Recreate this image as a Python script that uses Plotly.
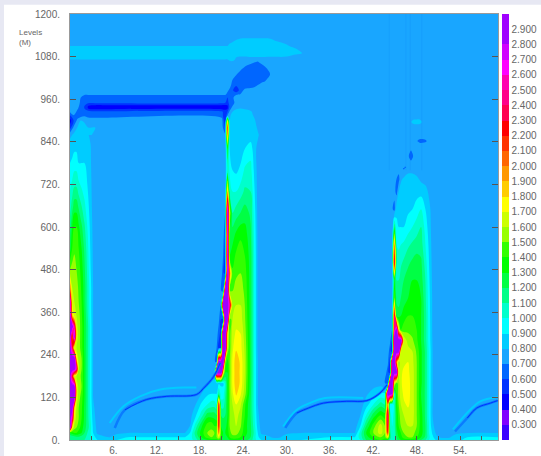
import plotly.graph_objects as go

# ---- tick labels / levels ----
X_MAJOR = [6, 12, 18, 24, 30, 36, 42, 48, 54]
X_MINOR = [3, 9, 15, 21, 27, 33, 39, 45, 51, 57]
Y_TICKS = [0, 120, 240, 360, 480, 600, 720, 840, 960, 1080, 1200]
CB_TICKS = [0.3 + 0.1 * i for i in range(27)]
BG_COLOR = "#19a6ff"
BAND_COLORS = ["#3a00ff", "#8000ff", "#0000ff", "#0033ff", "#0066ff", BG_COLOR, "#00ccff",
               "#00ffff", "#00ffcc", "#00ff88", "#00ff44", "#00ff00", "#33ff00", "#66ff00",
               "#99ff00", "#ccff00", "#ffff00", "#ffcc00", "#ff9900", "#ff6600", "#ff3300",
               "#ff0000", "#ff0050", "#ff0088", "#ff00b0", "#ff00ff", "#d000ff", "#a000ff"]

# ---- field values (hundredths) ----
BASE_X = [0, 59.25]
BASE_Y = [0, 1200]
BASE_Z = [[75, 75], [75, 75]]

P1_X = [0, .3, .6, .9, 1.2, 1.6, 2, 2.4, 2.8, 3.2, 3.8, 4.5, 5.5, 6.5, 8, 10, 13, 15.92]
P1_Y = [0, 8, 20, 35, 60, 90, 120, 150, 180, 200, 230, 260, 290, 320, 350, 390, 430, 480, 540, 600, 660, 720, 780, 830, 859.155]
P1_Z = [
    [110, 110, 112, 115, 115, 112, 110, 105, 100, 95, 90, 88, 88, 90, 92, 92, 92, 92],
    [110, 112, 115, 118, 118, 115, 112, 108, 102, 95, 85, 82, 80, 85, 90, 90, 90, 90],
    [130, 135, 140, 140, 135, 130, 120, 110, 102, 90, 78, 76, 75, 78, 80, 80, 80, 80],
    [295, 180, 155, 150, 145, 135, 125, 115, 105, 88, 76] + [75] * 7,
    [295, 250, 170, 155, 150, 140, 128, 115, 102, 85] + [75] * 8,
    [295, 295, 185, 160, 150, 142, 128, 115, 100, 82] + [75] * 8,
    [295, 295, 295, 170, 155, 145, 130, 115, 98, 80] + [75] * 8,
    [295, 295, 295, 175, 155, 150, 130, 115, 98, 80] + [75] * 8,
    [295, 230, 170, 160, 155, 148, 130, 115, 98, 80] + [75] * 8,
    [295, 295, 295, 250, 160, 150, 130, 115, 98, 80] + [75] * 8,
    [295, 295, 295, 180, 155, 150, 130, 115, 98, 80] + [75] * 8,
    [295, 240, 165, 160, 155, 145, 128, 115, 98, 80] + [75] * 8,
    [295, 200, 290, 170, 155, 145, 128, 115, 98, 80] + [75] * 8,
    [295, 295, 250, 165, 155, 145, 128, 115, 98, 80] + [75] * 8,
    [295, 190, 165, 160, 155, 142, 128, 112, 96, 80] + [75] * 8,
    [280, 165, 160, 158, 150, 140, 125, 110, 95, 80] + [75] * 8,
    [200, 160, 160, 155, 148, 138, 125, 110, 95, 80] + [75] * 8,
    [150, 155, 155, 150, 145, 135, 122, 108, 92, 79] + [75] * 8,
    [125, 140, 148, 148, 140, 130, 118, 105, 90, 78] + [75] * 8,
    [115, 130, 140, 140, 132, 122, 112, 100, 88, 77] + [75] * 8,
    [105, 115, 125, 125, 118, 110, 102, 95, 85, 76] + [75] * 8,
    [98, 102, 108, 108, 102, 98, 95, 90, 83, 76] + [75] * 8,
    [90, 92, 95, 95, 90, 90, 90, 87, 82, 75] + [75] * 8,
    [84, 85, 87, 87, 84, 84, 84, 84, 81, 75] + [75] * 8,
    [78, 80, 82, 84, 84, 84, 84, 82, 78, 75] + [75] * 8,
]

P2_X = [15.92, 16.6, 17.4, 18.2, 19, 19.6, 20, 20.3, 20.6, 20.9, 21.2, 21.5, 21.8, 22.1, 22.5, 23, 23.6, 24.2, 25, 25.5, 26, 26.5, 26.9947]
P2_Y = [0, 8, 20, 39.437, 70, 100, 130, 160, 190, 220, 260, 300, 340, 380, 420, 470, 520, 580, 640, 700, 760, 820, 859.155]
P2_Z = [
    [92, 95, 105, 120, 130, 135, 135, 135, 140, 130, 120, 120, 125, 130, 135, 135, 130, 125, 115, 105, 95, 90, 88],
    [90, 95, 110, 130, 145, 150, 150, 150, 165, 140, 125, 125, 130, 140, 145, 145, 140, 130, 120, 105, 92, 85, 85],
    [80, 90, 115, 135, 150, 152, 150, 150, 200, 140, 130, 130, 135, 145, 155, 155, 145, 135, 122, 108, 90, 78, 76],
    [75, 80, 105, 128, 145, 148, 140, 140, 230, 130, 125, 125, 135, 150, 160, 160, 152, 135, 122, 105, 85, 76, 75],
    [75, 76, 88, 105, 125, 125, 125, 120, 240, 120, 118, 120, 130, 150, 155, 165, 155, 140, 120, 102, 82, 75, 75],
    [75, 75, 80, 92, 100, 105, 105, 100, 230, 105, 105, 115, 130, 150, 160, 170, 162, 142, 120, 100, 80, 75, 75],
    [75, 75, 75, 80, 88, 90, 90, 90, 115, 95, 95, 110, 130, 150, 168, 182, 172, 155, 122, 100, 80, 75, 75],
    [75, 75, 75, 75, 80, 85, 85, 85, 88, 88, 88, 105, 130, 152, 172, 187, 178, 158, 124, 100, 80, 75, 75],
    [75, 75, 75, 75, 75, 75, 70, 295, 295, 295, 180, 130, 130, 150, 172, 187, 178, 160, 125, 100, 80, 75, 75],
    [75, 75, 75, 75, 75, 75, 75, 60, 295, 295, 295, 150, 135, 150, 172, 187, 178, 160, 125, 100, 80, 75, 75],
    [75, 75, 75, 75, 75, 75, 75, 70, 55, 60, 295, 295, 160, 145, 168, 178, 174, 158, 125, 100, 78, 75, 75],
    [75, 75, 75, 75, 75, 75, 75, 75, 65, 55, 295, 295, 180, 145, 165, 172, 170, 155, 125, 100, 78, 75, 75],
    [75] * 8 + [72, 60, 50, 295, 295, 140, 160, 165, 165, 152, 125, 100, 78, 75, 75],
    [75] * 9 + [70, 295, 295, 295, 250, 155, 160, 160, 150, 125, 100, 78, 75, 75],
    [75] * 9 + [72, 60, 295, 295, 150, 150, 155, 155, 148, 125, 100, 78, 75, 75],
    [75] * 10 + [65, 50, 295, 200, 142, 148, 150, 145, 125, 100, 78, 75, 75],
    [75] * 10 + [70, 55, 295, 130, 135, 142, 145, 140, 125, 100, 78, 75, 75],
    [75] * 11 + [60, 280, 125, 125, 132, 138, 135, 122, 98, 78, 75, 75],
    [75] * 11 + [70, 295, 160, 110, 115, 120, 125, 118, 96, 77, 75, 75],
    [75] * 11 + [75, 190, 110, 100, 100, 105, 112, 110, 92, 76, 75, 75],
    [75] * 12 + [110, 98, 90, 88, 92, 102, 104, 88, 76, 75, 75],
    [75] * 12 + [130, 90, 86, 85, 85, 90, 95, 85, 76, 75, 75],
    [75] * 11 + [72, 200, 86, 85, 85, 85, 85, 85, 85, 82, 75, 75],
]

TOP_X = [0, .5, 1, 1.5, 2, 2.5, 3.5, 4.5, 21, 21.5, 21.8, 22.1, 22.5, 23, 23.6, 24.2, 25, 25.5, 26, 26.5, 27, 27.7, 28.5, 30, 31, 32, 33, 33.9165]
TOP_Y = [859.155, 880, 900, 915, 925, 934, 941, 950, 965, 975, 985, 1000, 1015, 1030, 1045, 1055, 1065, 1072, 1080, 1090, 1100, 1110, 1120, 1130, 1140.845]
TOP_Z = [
    [78, 82, 84, 84, 84, 84, 76, 75, 75, 72, 200, 86, 85, 85, 85, 85, 85, 85, 82] + [75] * 9,
    [55, 72, 80, 84, 84, 80, 80, 75, 75, 60, 220, 88, 87, 87, 87, 87, 85, 85, 78] + [75] * 9,
    [45, 60, 72, 80, 78, 76, 75, 75, 75, 50, 170, 80, 85, 85, 85, 85, 85, 82] + [75] * 10,
    [60, 70, 65, 65, 68, 65, 65, 65, 65, 50, 70, 78, 84, 86, 86, 86, 84, 78] + [75] * 10,
    [72, 76, 68, 64, 66, 64, 62, 62, 62, 55, 60, 72, 80, 85, 85, 85, 82, 76] + [75] * 10,
    [75, 75, 72, 64, 60, 50, 46, 46, 46, 46, 48, 65, 75, 78, 80, 78] + [75] * 12,
    [75, 75, 74, 66, 60, 50, 46, 46, 46, 46, 48, 62, 70] + [75] * 15,
    [75, 75, 75, 68, 64, 62, 62, 62, 62, 60, 58, 62, 68, 72] + [75] * 14,
    [75, 75, 75, 70, 65, 65, 65, 65, 65, 65, 60, 64, 68, 75] + [75] * 14,
    [75, 75, 75, 75, 72, 72, 72, 72, 72, 72, 68, 64, 64, 68, 70, 72] + [75] * 12,
    [75] * 10 + [72, 68, 62, 50, 66, 72, 74] + [75] * 11,
    [75] * 10 + [75, 74, 66, 62, 64, 65, 65, 66, 70, 74] + [75] * 8,
    [75] * 12 + [70, 65, 64, 64, 63, 62, 62, 65, 68] + [75] * 7,
    [75] * 12 + [75, 71, 65, 63, 62, 61, 62, 63, 65, 70] + [75] * 6,
    [75] * 13 + [75, 72, 66, 62, 60, 61, 63, 66] + [75] * 7,
    [75] * 14 + [75, 72, 66, 65, 65, 67, 72] + [75] * 7,
    [75] * 11 + [76, 78, 75, 75, 75, 75, 71, 69, 74] + [75] * 8,
    [80] * 11 + [84, 84, 78, 76, 76] + [75] * 12,
    [85] * 11 + [86, 86, 81, 80, 80, 81, 81, 81, 81, 81, 80.5, 80.5, 80, 76, 75, 75, 75],
    [86] * 23 + [85, 84, 81, 75, 75],
    [86] * 23 + [85, 83, 77, 75, 75],
    [80] * 11 + [84, 86, 86, 86, 86, 86, 86, 86, 86, 86, 86, 85, 81.5, 77, 75, 75, 75],
    [75] * 11 + [78, 80.5, 84, 84, 84, 84, 84, 84, 84, 84, 84, 82, 78, 75, 75, 75, 75],
    [75] * 13 + [78, 80.5, 81, 81, 81, 81, 81, 81, 80.5, 77, 75, 75, 75, 75, 75],
    [75] * 28,
]

P3_X = [39.4538, 40.2, 41, 42, 43, 43.6, 44, 44.3, 44.6, 44.9, 45.2, 45.5, 45.8, 46.2, 46.8, 47.4, 48, 48.6, 49.2, 49.7, 50.2, 50.8, 51.4978]
P3_Y = [0, 8, 20, 39.437, 70, 100, 130, 160, 190, 220, 250, 280, 310, 350, 400, 450, 500, 550, 600, 650, 700, 735, 766.197]
P3_Z = [
    [92, 100, 120, 130, 140, 135, 125, 110, 105, 105, 115, 125, 130, 135, 135, 135, 130, 120, 110, 100, 95, 88, 84],
    [90, 105, 125, 140, 150, 145, 170, 115, 105, 105, 120, 130, 135, 145, 150, 150, 140, 130, 118, 102, 92, 82, 78],
    [80, 105, 130, 150, 165, 150, 220, 115, 100, 105, 125, 135, 140, 150, 155, 155, 145, 135, 120, 100, 88, 76, 75],
    [75, 90, 120, 145, 165, 150, 240, 110, 100, 105, 130, 140, 150, 155, 160, 160, 150, 135, 120, 100, 82, 75, 75],
    [75, 80, 100, 125, 140, 135, 250, 105, 95, 105, 130, 145, 155, 160, 165, 165, 150, 135, 118, 98, 80, 75, 75],
    [75, 75, 85, 100, 115, 110, 200, 95, 90, 105, 135, 150, 160, 168, 172, 165, 150, 132, 118, 98, 80, 75, 75],
    [75, 75, 78, 85, 92, 92, 295, 295, 280, 100, 140, 155, 165, 172, 174, 165, 150, 130, 118, 98, 80, 75, 75],
    [75, 75, 75, 75, 75, 70, 60, 295, 295, 170, 145, 155, 168, 174, 174, 165, 150, 132, 118, 98, 80, 75, 75],
    [75, 75, 75, 75, 75, 75, 65, 50, 295, 295, 295, 160, 168, 172, 172, 165, 150, 132, 118, 98, 80, 75, 75],
    [75, 75, 75, 75, 75, 75, 72, 55, 295, 295, 200, 155, 165, 168, 170, 163, 150, 132, 118, 98, 80, 75, 75],
    [75, 75, 75, 75, 75, 75, 75, 65, 50, 295, 295, 295, 165, 165, 165, 160, 148, 132, 118, 98, 80, 75, 75],
    [75, 75, 75, 75, 75, 75, 75, 72, 60, 295, 295, 295, 295, 170, 155, 152, 142, 130, 115, 96, 79, 75, 75],
    [75, 75, 75, 75, 75, 75, 75, 75, 70, 250, 295, 180, 140, 145, 148, 145, 140, 130, 115, 96, 78, 75, 75],
    [75] * 8 + [75, 240, 130, 125, 130, 135, 140, 140, 138, 130, 115, 95, 78, 75, 75],
    [75] * 8 + [75, 150, 115, 115, 120, 125, 130, 135, 135, 130, 112, 94, 78, 75, 75],
    [75] * 8 + [75, 130, 110, 110, 115, 120, 125, 130, 130, 125, 110, 92, 77, 75, 75],
    [75] * 8 + [72, 240, 105, 105, 108, 112, 118, 122, 125, 122, 105, 90, 76, 75, 75],
    [75] * 8 + [72, 200, 100, 98, 100, 102, 108, 112, 115, 115, 100, 88, 75, 75, 75],
    [75] * 8 + [70, 120, 92, 90, 90, 90, 95, 100, 105, 110, 96, 85, 75, 75, 75],
    [75] * 8 + [72, 65, 88, 86, 86, 86, 88, 90, 95, 100, 90, 83, 75, 75, 75],
    [75] * 8 + [75, 75, 65, 80, 85, 86, 88, 88, 86, 86, 84, 78, 75, 75, 75],
    [75] * 8 + [75, 75, 70, 66, 78, 82, 85, 85, 82, 78, 76, 75, 75, 75, 75],
    [75] * 13 + [68] + [75] * 9,
]

BLOB_X = [45.545, 46, 46.4, 46.8, 47.2, 47.6, 48, 48.4, 48.8, 49.2, 49.6, 49.9749]
BLOB_Y = [766.197, 780, 790, 800, 812, 825, 834, 842, 851, 885, 896, 908, 921.127]
BLOB_Z = [
    [75, 74, 68, 74, 75, 75, 75, 75, 75, 75, 75, 75],
    [75] * 12,
    [75, 75, 75, 75, 68, 75, 75, 75, 75, 75, 75, 75],
    [75, 75, 75, 72, 64, 72, 75, 75, 75, 75, 75, 75],
    [75, 75, 75, 75, 68, 75, 75, 75, 75, 75, 75, 75],
    [75] * 12,
    [75] * 12,
    [75, 75, 75, 75, 75, 75, 72, 64, 62, 66, 75, 75],
    [75] * 12,
    [75] * 12,
    [75, 75, 75, 75, 79, 86, 87, 86, 78, 75, 75, 75],
    [75] * 12,
    [75] * 12,
]

S2_X = [26.9947, 28, 29, 30, 32, 36, 39.4538]
S3_X = [51.4978, 52.5, 53.5, 55, 59.25]
SURF_Y = [0, 8, 20, 39.437]
S2_Z = [[88, 84, 84, 88, 90, 92, 92], [85, 79, 79, 85, 88, 90, 90], [76, 75, 75, 78, 80, 80, 80], [75] * 7]
S3_Z = [[84, 84, 88, 92, 92], [78, 79, 85, 90, 90], [75, 75, 78, 80, 80], [75] * 5]

# ---- thin filaments ----
F1_EDGE_X, F1_EDGE_Y = [5.5, 7.4, 9.7, 12.5, 16.2, 17.5], [48, 95, 123, 142, 148, 148]
F1_BODY_X = [6.2, 7.6, 10.6, 13.4, 17.5, 18.5, 19.9, 20.8]
F1_BODY_Y = [34, 85, 114, 123, 128, 146, 179, 217]
F2_EDGE_X, F2_EDGE_Y = [29.5, 31.4, 33.2, 35.3, 40.6], [38, 85, 104, 118, 118]
F2_BODY_X = [29.8, 31.4, 33, 35.1, 38.3, 41.1, 42.9, 43.9]
F2_BODY_Y = [34, 76, 90, 104, 109, 111, 132, 156]
F3_EDGE_X, F3_EDGE_Y = [53, 55.4, 56.8, 59.2], [30, 85, 109, 121]
F3_BODY_X = [53.3, 55, 56.3, 58.2, 59.2]
F3_BODY_Y = [24, 62, 90, 104, 111]
FAINT_X = [44.2, 46.5, 47.1, 48.7]

GREY = "#666666"
FONT = "Liberation Sans"
W, H = 541, 456
L, R, T, B = 70, 498, 14, 440


def stepped(colors):
    n = len(colors)
    out = []
    for i, c in enumerate(colors):
        out += [[i / n, c], [(i + 1) / n, c]]
    return out


# colorbar scale: levels 0.2-2.9
bar_scale = stepped(BAND_COLORS)
# patch scale: one extra unused level below 0.2 so the backdrop of every patch is the background colour
patch_scale = stepped([BG_COLOR] + BAND_COLORS)

fig = go.Figure()


def patch(xs, ys, zs, bar=False):
    fig.add_trace(go.Contour(
        x=xs, y=ys, z=[[v / 100 for v in row] for row in zs],
        zmin=0.2 if bar else 0.1, zmax=3.0, autocontour=False, colorscale=bar_scale if bar else patch_scale,
        contours=dict(start=0.2 if bar else 0.1, end=2.9, size=0.1, coloring="fill", showlines=False),
        line=dict(width=0), showscale=bar, hoverinfo="skip",
        colorbar=dict(x=502.3 / W, xanchor="left", y=1 - B / H, yanchor="bottom", len=(B - T) / H,
                      lenmode="fraction", thickness=7, xpad=0, ypad=0, outlinewidth=0,
                      tickmode="array", tickvals=CB_TICKS, ticktext=[f"{v:.3f}" for v in CB_TICKS],
                      ticks="", ticklen=0, tickfont=dict(family=FONT, size=10, color=GREY)),
    ))


patch(BASE_X, BASE_Y, BASE_Z, bar=True)
patch(P1_X, P1_Y, P1_Z)
patch(P2_X, P2_Y, P2_Z)
patch(TOP_X, TOP_Y, TOP_Z)
patch(P3_X, P3_Y, P3_Z)
patch(BLOB_X, BLOB_Y, BLOB_Z)
patch(S2_X, SURF_Y, S2_Z)
patch(S3_X, SURF_Y, S3_Z)


def strand(xs, ys, color, width):
    fig.add_trace(go.Scatter(x=xs, y=ys, mode="lines", line=dict(color=color, width=width, shape="spline"),
                             showlegend=False, hoverinfo="skip"))


for ex, ey, bx, by in [(F1_EDGE_X, F1_EDGE_Y, F1_BODY_X, F1_BODY_Y),
                       (F2_EDGE_X, F2_EDGE_Y, F2_BODY_X, F2_BODY_Y),
                       (F3_EDGE_X, F3_EDGE_Y, F3_BODY_X, F3_BODY_Y)]:
    strand(ex, ey, "#00ccff", 2)
    strand(bx, by, "#0a7cff", 2.5)
    strand(bx[1:], by[1:], "#0033ff", 1)

for fx in FAINT_X:
    fig.add_trace(go.Scatter(x=[fx, fx], y=[760, 1200], mode="lines",
                             line=dict(color="rgba(0,110,230,0.12)", width=1),
                             showlegend=False, hoverinfo="skip"))

LAV = "#e7e8f3"
fig.update_layout(
    width=W, height=H, autosize=False,
    margin=dict(l=0, r=0, t=0, b=0),
    paper_bgcolor="white", plot_bgcolor=BG_COLOR, showlegend=False,
    font=dict(family=FONT, size=10, color=GREY),
    shapes=[dict(type="rect", xref="paper", yref="paper", layer="above", line=dict(width=0), fillcolor=LAV,
                 x0=0, x1=1, y0=1 - 4.7 / H, y1=1),
            dict(type="rect", xref="paper", yref="paper", layer="above", line=dict(width=0), fillcolor=LAV,
                 x0=0, x1=4 / W, y0=0, y1=1)],
    annotations=[dict(text="Levels<br>(M)", xref="paper", yref="paper", x=17 / W, y=1 - 26 / H,
                      xanchor="left", yanchor="top", align="left", showarrow=False,
                      font=dict(family=FONT, size=8, color=GREY))],
    xaxis=dict(domain=[L / W, R / W], range=[0, 59.25], tickmode="array", tickvals=X_MAJOR,
               ticktext=[f"{v}." for v in X_MAJOR], automargin=False,
               ticks="inside", ticklen=4, tickcolor="#555555", showgrid=False, zeroline=False,
               showline=True, linecolor="#999999", linewidth=1, mirror=True,
               minor=dict(tickmode="array", tickvals=X_MINOR, ticks="inside", ticklen=4, tickcolor="#555555"),
               tickfont=dict(family=FONT, size=10, color=GREY), ticklabelstandoff=1),
    yaxis=dict(domain=[1 - B / H, 1 - T / H], range=[0, 1200], tickmode="array", tickvals=Y_TICKS,
               ticktext=[f"{v}." for v in Y_TICKS], automargin=False,
               ticks="inside", ticklen=6, tickcolor="#555555", showgrid=False, zeroline=False,
               showline=True, linecolor="#999999", linewidth=1, mirror="ticks",
               tickfont=dict(family=FONT, size=10, color=GREY), ticklabelstandoff=7),
)

fig.write_html("out.html", config={"displayModeBar": False},
               post_script="document.body.style.margin='0';document.body.style.overflow='hidden';")
